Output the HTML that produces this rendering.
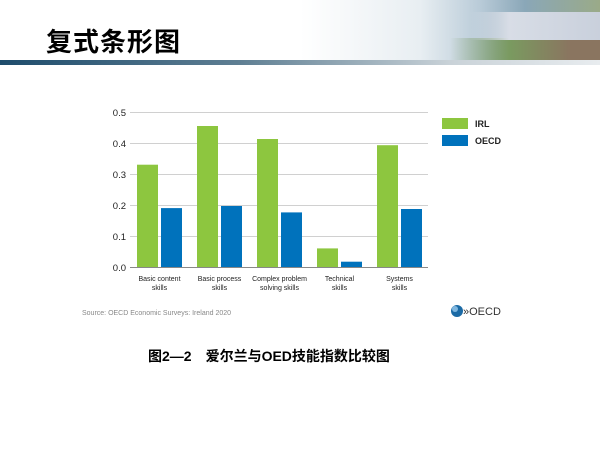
<!DOCTYPE html><html><head><meta charset="utf-8"><style>
body{margin:0;width:600px;height:450px;background:#fff;position:relative;overflow:hidden;font-family:"Liberation Sans","Noto Sans CJK SC",sans-serif}
.a{position:absolute}
</style></head><body>
<div class="a" style="left:300px;top:0;width:300px;height:60px;background:linear-gradient(90deg,#fff 0%,#e8eef2 40%,#b9cbd8 60%,#8aa7b8 75%,#9aaa88 100%)"></div>
<div class="a" style="left:450px;top:38px;width:150px;height:22px;background:linear-gradient(90deg,rgba(120,150,90,0) 0%,#7a9a60 40%,#8a7560 80%)"></div>
<div class="a" style="left:470px;top:12px;width:130px;height:28px;background:linear-gradient(90deg,rgba(220,225,235,0),#d8dde6 30%,#c9d0dc)"></div>
<div class="a" style="left:0;top:60px;width:600px;height:5px;background:linear-gradient(90deg,#1e4c6c 0%,#5f7f93 40%,#c9d2d8 75%,#e8ecef 100%)"></div>
<div class="a" style="left:46px;top:22px;font-size:26px;font-weight:bold;color:#000;letter-spacing:1px">复式条形图</div>
<svg class="a" style="left:0;top:0" width="600" height="450">
<g stroke="#d0d0d0" stroke-width="1">
<line x1="130" x2="428" y1="112.5" y2="112.5"/><line x1="130" x2="428" y1="143.5" y2="143.5"/><line x1="130" x2="428" y1="174.5" y2="174.5"/><line x1="130" x2="428" y1="205.5" y2="205.5"/><line x1="130" x2="428" y1="236.5" y2="236.5"/></g>
<line x1="130" x2="428" y1="267.5" y2="267.5" stroke="#888"/>
<g font-size="9.5" fill="#222" text-anchor="end"><text x="126" y="116">0.5</text><text x="126" y="147">0.4</text><text x="126" y="178">0.3</text><text x="126" y="209">0.2</text><text x="126" y="240">0.1</text><text x="126" y="271">0.0</text></g>
<g fill="#8dc63f"><rect x="137" y="164.7" width="21" height="102.3"/><rect x="197" y="126" width="21" height="141"/><rect x="257" y="139" width="21" height="128"/><rect x="317" y="248.4" width="21" height="18.6"/><rect x="377" y="145.2" width="21" height="121.8"/></g>
<g fill="#0072bc"><rect x="161" y="208.1" width="21" height="58.9"/><rect x="221" y="206" width="21" height="61"/><rect x="281" y="212.4" width="21" height="54.6"/><rect x="341" y="261.7" width="21" height="5.3"/><rect x="401" y="209" width="21" height="58"/></g>
<g font-size="7" fill="#222" text-anchor="middle">
<text x="159.5" y="281">Basic content</text><text x="159.5" y="290">skills</text>
<text x="219.5" y="281">Basic process</text><text x="219.5" y="290">skills</text>
<text x="279.5" y="281">Complex problem</text><text x="279.5" y="290">solving skills</text>
<text x="339.5" y="281">Technical</text><text x="339.5" y="290">skills</text>
<text x="399.5" y="281">Systems</text><text x="399.5" y="290">skills</text></g>
<rect x="442" y="118" width="26" height="11" fill="#8dc63f"/><rect x="442" y="135" width="26" height="11" fill="#0072bc"/>
<text x="475" y="127" font-size="9" font-weight="bold" fill="#222">IRL</text><text x="475" y="144" font-size="9" font-weight="bold" fill="#222">OECD</text>
<text x="82" y="315" font-size="7" fill="#888">Source: OECD Economic Surveys: Ireland 2020</text>
<circle cx="457" cy="311" r="6" fill="#1b6aa5"/><circle cx="455" cy="309" r="3" fill="#7fb7e0"/>
<text x="463" y="315" font-size="11" fill="#333">»OECD</text>
</svg>
<div class="a" style="left:148px;top:346px;font-size:14px;font-weight:bold;color:#000;white-space:nowrap">图2—2　爱尔兰与OED技能指数比较图</div>
</body></html>
